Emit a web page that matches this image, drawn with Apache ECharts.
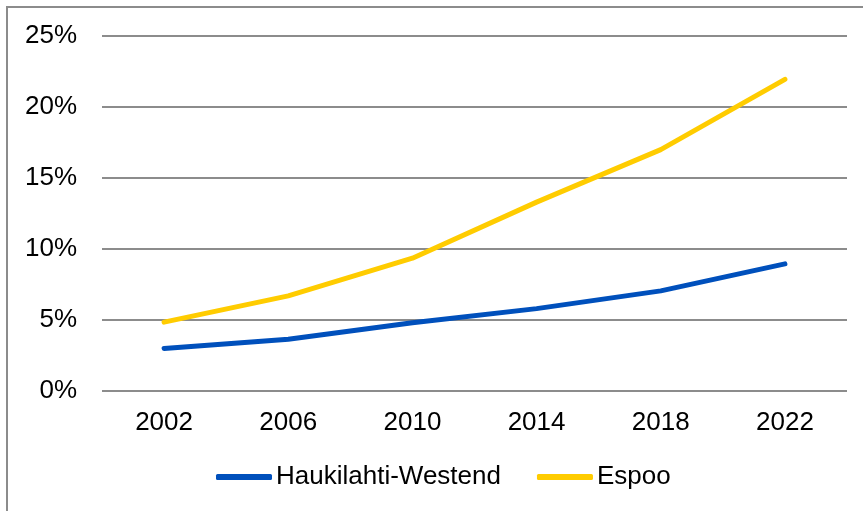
<!DOCTYPE html>
<html>
<head>
<meta charset="utf-8">
<script src="https://cdn.jsdelivr.net/npm/echarts@6/dist/echarts.min.js"></script>
<style>
  html, body { margin: 0; padding: 0; background: #fff; }
  #chart { width: 863px; height: 511px; }
</style>
</head>
<body>
<div id="chart"></div>
<script>
const years = ['2002', '2006', '2010', '2014', '2018', '2022'];
const haukilahti = [3.0, 3.65, 4.8, 5.8, 7.05, 8.95];
const espoo = [4.85, 6.7, 9.35, 13.3, 17.0, 21.95];
const yTicks = [0, 5, 10, 15, 20, 25];

const chart = echarts.init(document.getElementById('chart'));
const font = 'Liberation Sans, Arial, sans-serif';

chart.setOption({
  animation: false,
  textStyle: { fontFamily: font },
  graphic: [{
    type: 'rect',
    shape: { x: 7, y: 7, width: 900, height: 600 },
    style: { fill: 'none', stroke: '#8c8c8c', lineWidth: 2 },
    silent: true
  }],
  grid: { left: 102, right: 16, top: 36, bottom: 120 },
  legend: {
    top: 459,
    left: 211,
    icon: 'roundRect',
    itemWidth: 56,
    itemHeight: 6,
    itemGap: 36,
    textStyle: { fontSize: 26, color: '#000', fontFamily: font, padding: [0, 0, 0, -1] },
    data: ['Haukilahti-Westend', 'Espoo']
  },
  xAxis: {
    type: 'category',
    data: years,
    axisLine: { show: false },
    axisTick: { show: false },
    axisLabel: { fontSize: 26, color: '#000', margin: 19, fontFamily: font }
  },
  yAxis: {
    type: 'value',
    min: yTicks[0],
    max: yTicks[yTicks.length - 1],
    interval: 5,
    axisLine: { show: false },
    axisTick: { show: false },
    axisLabel: { fontSize: 26, color: '#000', margin: 25, formatter: v => v + '%', fontFamily: font },
    splitLine: { lineStyle: { color: '#8c8c8c', width: 2 } }
  },
  series: [
    {
      name: 'Haukilahti-Westend',
      type: 'line',
      data: haukilahti,
      symbol: 'none',
      lineStyle: { color: '#0050bc', width: 5, cap: 'round', join: 'round' },
      itemStyle: { color: '#0050bc' }
    },
    {
      name: 'Espoo',
      type: 'line',
      data: espoo,
      symbol: 'none',
      lineStyle: { color: '#ffcc00', width: 5, cap: 'round', join: 'round' },
      itemStyle: { color: '#ffcc00' }
    }
  ]
});
</script>
</body>
</html>
